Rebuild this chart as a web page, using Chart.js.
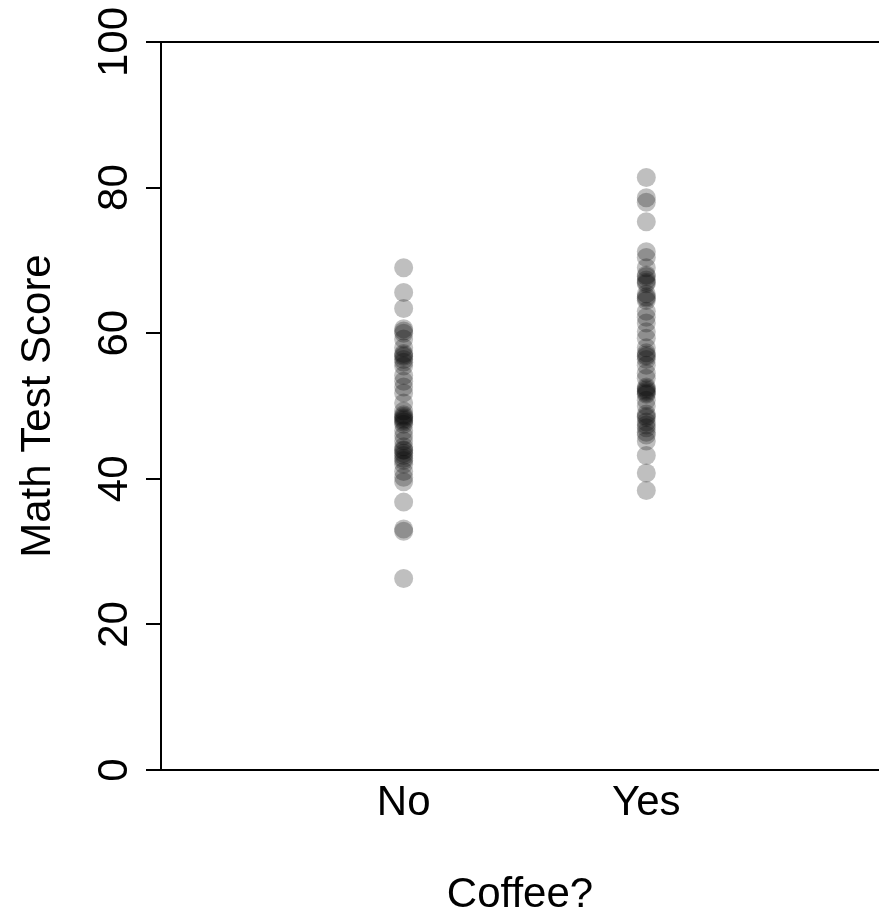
<!DOCTYPE html>
<html>
<head>
<meta charset="utf-8">
<title>Math Test Score by Coffee</title>
<script src="https://cdn.jsdelivr.net/npm/chart.js@4.4.1/dist/chart.umd.min.js"></script>
<style>
  html, body { margin: 0; padding: 0; background: #fff; }
  #chart { display: block; }
</style>
</head>
<body>
<canvas id="chart" width="879" height="918"></canvas>
<script>
// ***************************************************
// Data
// ***************************************************

var groups = ["No", "Yes"];

var noCoffee = [
  69.0, 65.6, 63.4, 60.6, 60.3, 60.0, 59.2, 58.0, 57.2, 57.0,
  56.8, 56.4, 56.0, 55.5, 54.2, 53.4, 52.6, 51.8, 50.4, 49.3,
  48.8, 48.6, 48.4, 48.2, 48.0, 47.8, 47.5, 46.6, 45.9, 45.2,
  44.4, 44.0, 43.9, 43.5, 43.2, 42.8, 42.5, 42.0, 41.0, 40.2,
  39.6, 36.8, 33.1, 32.8, 26.3
];

var yesCoffee = [
  81.4, 78.6, 78.0, 75.3, 71.2, 70.4, 69.0, 68.0, 67.8, 67.3,
  67.0, 66.8, 65.4, 65.0, 64.8, 64.5, 63.0, 62.2, 61.4, 60.2,
  59.3, 58.0, 57.3, 57.0, 56.8, 56.4, 55.6, 54.5, 53.8, 52.6,
  52.4, 52.2, 52.0, 51.8, 51.6, 50.8, 50.0, 48.9, 48.6, 48.4,
  47.8, 47.4, 47.0, 46.4, 46.0, 45.2, 43.2, 40.8, 38.4
];

var yTicks = [0, 20, 40, 60, 80, 100];

(function() {

  var FONT = "'Liberation Sans', Arial, sans-serif";
  var FONT_SIZE = 42;

  // strip chart: every score sits on its group's x position
  function toPoints(values, x) {
    return values.map(function(v) { return { x: x, y: v }; });
  }

  // y tick labels are drawn turned on their side, reading upwards
  var rotatedTicks = {
    id: 'rotatedTicks',
    afterDraw: function(chart) {
      var scale = chart.scales.y;
      var ctx = chart.ctx;
      ctx.save();
      ctx.fillStyle = '#000';
      ctx.font = FONT_SIZE + 'px ' + FONT;
      ctx.textAlign = 'center';
      ctx.textBaseline = 'alphabetic';
      yTicks.forEach(function(t) {
        var y = scale.getPixelForValue(t);
        ctx.save();
        ctx.translate(127, y);
        ctx.rotate(-Math.PI / 2);
        ctx.fillText(String(t), 0, 0);
        ctx.restore();
      });
      ctx.restore();
    }
  };

  new Chart(document.getElementById('chart'), {
    type: 'scatter',
    data: {
      datasets: [
        { data: toPoints(noCoffee, 1) },
        { data: toPoints(yesCoffee, 2) }
      ]
    },
    options: {
      responsive: false,
      animation: false,
      layout: {
        autoPadding: false,
        padding: { left: 13, top: 42, right: 0, bottom: 0 }
      },
      elements: {
        point: {
          radius: 9.5,
          hoverRadius: 9.5,
          backgroundColor: 'rgba(0,0,0,0.25)',
          borderWidth: 0
        }
      },
      plugins: {
        legend: { display: false },
        tooltip: { enabled: false }
      },
      scales: {
        x: {
          type: 'linear',
          min: 0,
          max: 2.959,
          grid: { display: false },
          border: { display: false },
          afterBuildTicks: function(scale) {
            scale.ticks = groups.map(function(g, i) { return { value: i + 1 }; });
          },
          // labels sit well inside the plot, no edge padding needed
          afterFit: function(scale) {
            scale.paddingLeft = 0;
            scale.paddingRight = 0;
          },
          ticks: {
            color: '#000',
            padding: 0,
            maxRotation: 0,
            font: { family: FONT, size: FONT_SIZE },
            callback: function(value) { return groups[value - 1]; }
          },
          title: {
            display: true,
            text: 'Coffee?',
            color: '#000',
            font: { family: FONT, size: FONT_SIZE, lineHeight: 1.0 },
            padding: { top: 45.6, bottom: 2 }
          }
        },
        y: {
          min: 0,
          max: 100,
          afterBuildTicks: function(scale) {
            scale.ticks = yTicks.map(function(v) { return { value: v }; });
          },
          ticks: { display: false },
          grid: {
            drawTicks: true,
            tickLength: 15,
            lineWidth: 2,
            tickWidth: 2,
            tickColor: '#000',
            // only the 0 and 100 lines run across the plot
            color: function(ctx) {
              var v = ctx.tick && ctx.tick.value;
              return (v === 0 || v === 100) ? '#000' : 'rgba(0,0,0,0)';
            }
          },
          border: { display: true, color: '#000', width: 2 },
          title: {
            display: true,
            text: 'Math Test Score',
            color: '#000',
            font: { family: FONT, size: FONT_SIZE },
            padding: { top: 0, bottom: 82.6 }
          }
        }
      }
    },
    plugins: [rotatedTicks]
  });

})();
</script>
</body>
</html>
